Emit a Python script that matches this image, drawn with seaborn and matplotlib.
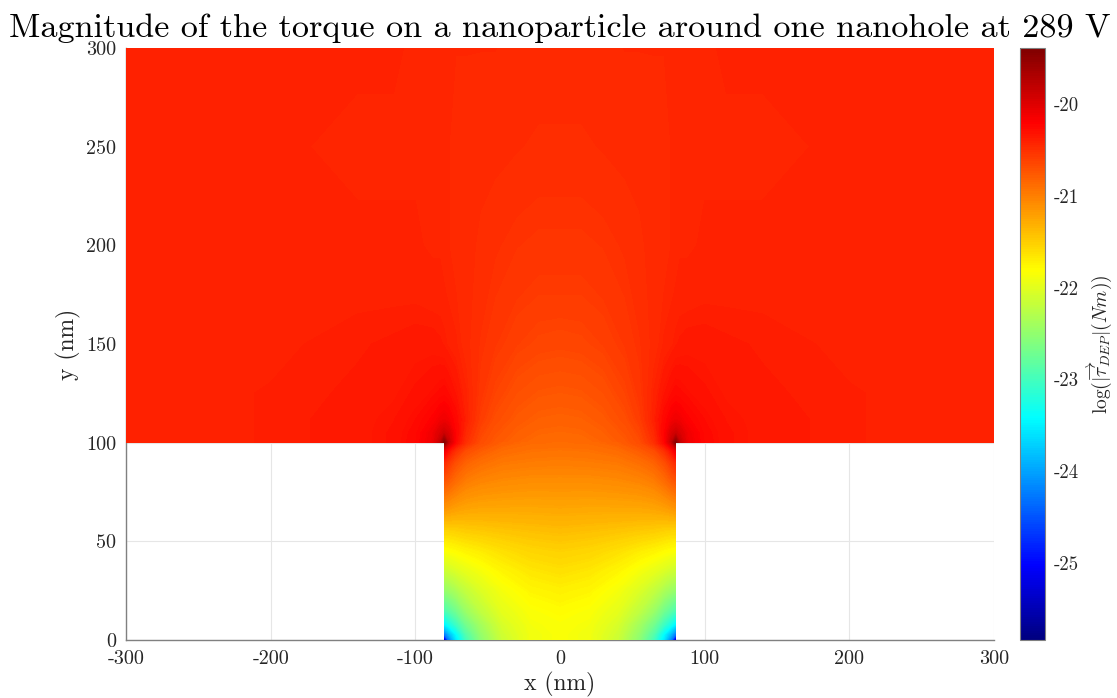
import numpy as np
import matplotlib
matplotlib.use("Agg")
import matplotlib.pyplot as plt
from matplotlib.colors import LinearSegmentedColormap, Normalize
from matplotlib.cm import ScalarMappable
from matplotlib.ticker import FixedLocator, FixedFormatter
import seaborn as sns

# ---------------- data (log10 of torque magnitude) ----------------
clim_low = -25.84
clim_high = -19.39

# upper region (y >= 100), right half; mirrored about x = 0
upper_x_half = [0, 15, 30, 45, 55, 65, 72, 77, 80, 83, 88, 100, 115, 140, 200, 300]
upper_y = [100, 105, 112, 125, 150, 175, 200, 250, 300]
upper_vals_half = [
    [-20.88, -20.87, -20.83, -20.76, -20.68, -20.50, -20.25, -19.85, -19.45, -19.85, -20.10, -20.25, -20.32, -20.36, -20.39, -20.41],
    [-20.85, -20.84, -20.80, -20.73, -20.64, -20.45, -20.22, -19.98, -19.90, -19.98, -20.12, -20.26, -20.32, -20.36, -20.39, -20.41],
    [-20.81, -20.80, -20.76, -20.68, -20.58, -20.40, -20.25, -20.15, -20.12, -20.14, -20.20, -20.28, -20.33, -20.36, -20.39, -20.41],
    [-20.75, -20.74, -20.70, -20.62, -20.54, -20.42, -20.33, -20.28, -20.26, -20.27, -20.29, -20.32, -20.35, -20.37, -20.39, -20.41],
    [-20.64, -20.63, -20.60, -20.55, -20.51, -20.46, -20.42, -20.40, -20.38, -20.37, -20.36, -20.36, -20.37, -20.38, -20.40, -20.41],
    [-20.57, -20.57, -20.55, -20.52, -20.49, -20.46, -20.44, -20.43, -20.42, -20.41, -20.41, -20.40, -20.40, -20.40, -20.41, -20.42],
    [-20.53, -20.53, -20.52, -20.50, -20.48, -20.46, -20.45, -20.44, -20.44, -20.43, -20.43, -20.42, -20.42, -20.42, -20.42, -20.42],
    [-20.48, -20.48, -20.47, -20.46, -20.46, -20.45, -20.45, -20.44, -20.44, -20.44, -20.44, -20.43, -20.43, -20.43, -20.42, -20.42],
    [-20.45, -20.45, -20.45, -20.44, -20.44, -20.44, -20.44, -20.43, -20.43, -20.43, -20.43, -20.43, -20.42, -20.42, -20.42, -20.42],
]

# inside the nanohole (|x| <= 80, 0 <= y <= 100), right half; mirrored about x = 0
hole_x_half = [0, 20, 40, 55, 65, 72, 77, 80]
hole_y = [0, 3, 8, 15, 25, 35, 45, 55, 65, 80, 90, 96, 100]
hole_vals_half = [
    [-21.85, -21.90, -22.15, -22.55, -23.00, -23.60, -24.30, -25.60],
    [-21.85, -21.90, -22.12, -22.50, -22.90, -23.45, -23.90, -24.30],
    [-21.84, -21.88, -22.07, -22.40, -22.70, -23.05, -23.30, -23.50],
    [-21.80, -21.84, -21.98, -22.22, -22.45, -22.70, -22.85, -22.95],
    [-21.72, -21.76, -21.88, -22.05, -22.20, -22.35, -22.45, -22.50],
    [-21.62, -21.66, -21.76, -21.88, -21.97, -22.05, -22.12, -22.15],
    [-21.52, -21.55, -21.62, -21.70, -21.75, -21.80, -21.83, -21.85],
    [-21.40, -21.42, -21.45, -21.48, -21.50, -21.53, -21.55, -21.55],
    [-21.27, -21.28, -21.28, -21.28, -21.27, -21.25, -21.22, -21.20],
    [-21.10, -21.10, -21.08, -21.05, -21.00, -20.90, -20.80, -20.75],
    [-20.99, -20.98, -20.96, -20.90, -20.82, -20.70, -20.55, -20.45],
    [-20.93, -20.92, -20.88, -20.78, -20.68, -20.50, -20.30, -20.10],
    [-20.88, -20.87, -20.80, -20.68, -20.50, -20.25, -19.90, -19.45],
]

x_ticks = [-300, -200, -100, 0, 100, 200, 300]
x_tick_labels = ["-300", "-200", "-100", "0", "100", "200", "300"]
y_ticks = [0, 50, 100, 150, 200, 250, 300]
y_tick_labels = ["0", "50", "100", "150", "200", "250", "300"]
cbar_ticks = [-25, -24, -23, -22, -21, -20]
cbar_tick_labels = ["-25", "-24", "-23", "-22", "-21", "-20"]

title_text = "Magnitude of the torque on a nanoparticle around one nanohole at 289 V"
x_label = "x (nm)"
y_label = "y (nm)"
cbar_label = r"$\log(|\overrightarrow{\tau}_{DEP}|(Nm))$"

# ---------------- style ----------------
sns.set_theme(style="white")
plt.rcParams["font.family"] = ["cmr10", "DejaVu Serif"]
plt.rcParams["mathtext.fontset"] = "cm"
plt.rcParams["axes.unicode_minus"] = False
plt.rcParams["axes.formatter.use_mathtext"] = True

# MATLAB-style jet colour map
jet_data = {
    "red": [(0, 0, 0), (0.375, 0, 0), (0.625, 1, 1), (0.875, 1, 1), (1, 0.5, 0.5)],
    "green": [(0, 0, 0), (0.125, 0, 0), (0.375, 1, 1), (0.625, 1, 1), (0.875, 0, 0), (1, 0, 0)],
    "blue": [(0, 0.5, 0.5), (0.125, 1, 1), (0.375, 1, 1), (0.625, 0, 0), (1, 0, 0)],
}
jet = LinearSegmentedColormap("matlab_jet", jet_data, N=256)


def mirror(xh, vh):
    xh = np.asarray(xh, float)
    vh = np.asarray(vh, float)
    x_full = np.concatenate([-xh[:0:-1], xh])
    v_full = np.hstack([vh[:, :0:-1], vh])
    return x_full, v_full


ux, uv = mirror(upper_x_half, upper_vals_half)
hx, hv = mirror(hole_x_half, hole_vals_half)

fig = plt.figure(figsize=(11.17, 6.98), dpi=100)
ax = fig.add_axes([126 / 1117, 58 / 698, 868 / 1117, 592 / 698])
cax = fig.add_axes([1020 / 1117, 58 / 698, 25 / 1117, 592 / 698])

levels = np.linspace(clim_low, clim_high, 400)
norm = Normalize(clim_low, clim_high)
UX, UY = np.meshgrid(ux, upper_y)
HX, HY = np.meshgrid(hx, hole_y)
ax.contourf(UX, UY, uv, levels=levels, cmap=jet, norm=norm, extend="both", zorder=2)
ax.contourf(HX, HY, hv, levels=levels, cmap=jet, norm=norm, extend="both", zorder=2)

ax.set_xlim(-300, 300)
ax.set_ylim(0, 300)
ax.xaxis.set_major_locator(FixedLocator(x_ticks))
ax.xaxis.set_major_formatter(FixedFormatter(x_tick_labels))
ax.yaxis.set_major_locator(FixedLocator(y_ticks))
ax.yaxis.set_major_formatter(FixedFormatter(y_tick_labels))
ax.set_axisbelow(True)
ax.grid(True, color="#e6e6e6", linewidth=0.8)
for side in ["top", "right"]:
    ax.spines[side].set_visible(False)
for side in ["left", "bottom"]:
    ax.spines[side].set_color("#808080")
    ax.spines[side].set_linewidth(1.0)
    ax.spines[side].set_zorder(1)
ax.tick_params(direction="in", length=6, width=0.8, color="#555555",
               labelsize=14.5, labelcolor="#262626", pad=7)
ax.set_xlabel(x_label, fontsize=17, color="#262626", labelpad=3)
ax.set_ylabel(y_label, fontsize=17, color="#262626", labelpad=4)
ax.set_title(title_text, fontsize=24.6, color="black", pad=8)

sm = ScalarMappable(norm=norm, cmap=jet)
cb = fig.colorbar(sm, cax=cax)
cb.outline.set_edgecolor("#808080")
cb.outline.set_linewidth(0.8)
cb.set_ticks(cbar_ticks)
cb.set_ticklabels(cbar_tick_labels)
cax.tick_params(direction="in", length=5, width=0.8, color="#555555",
                labelsize=13.5, labelcolor="#262626", pad=6)
cb.set_label(cbar_label, fontsize=14, color="#262626", labelpad=4)

fig.savefig("out.png", dpi=100)
